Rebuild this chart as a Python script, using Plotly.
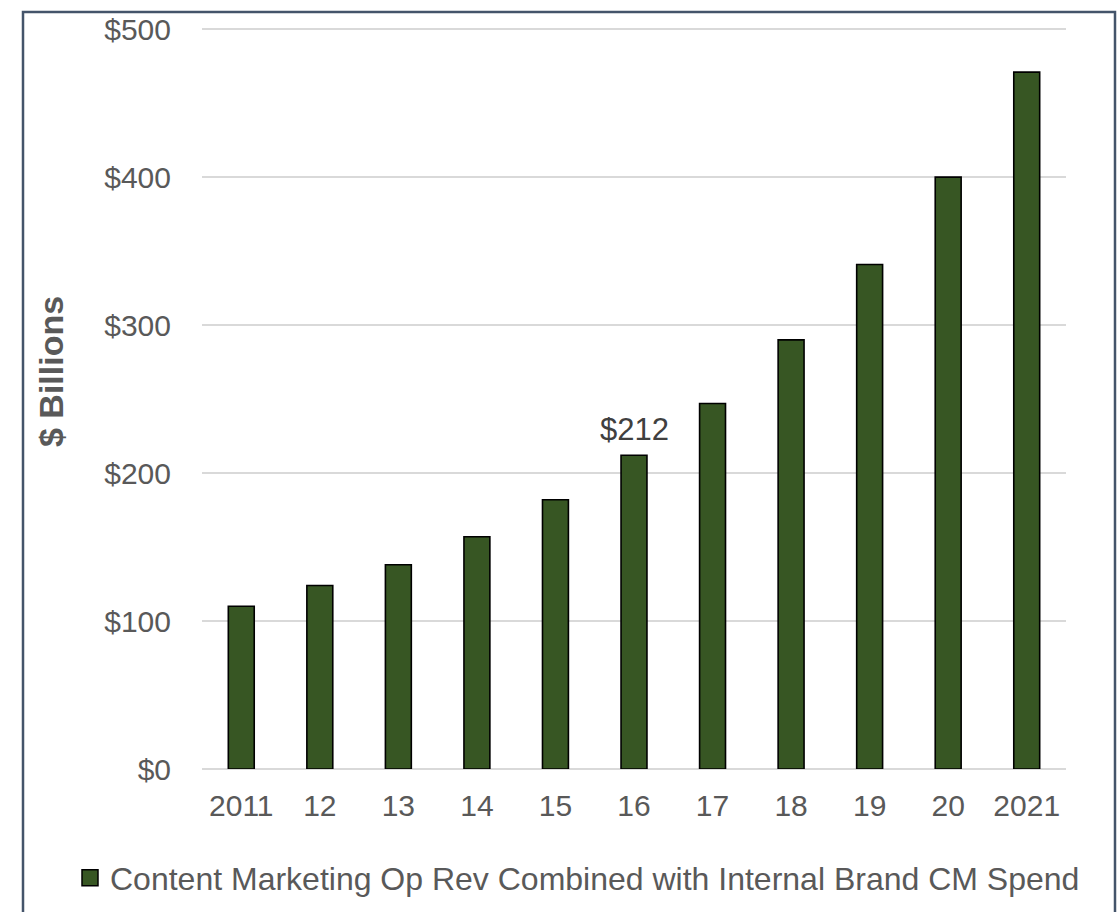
import plotly.graph_objects as go

# Annual spend, $ billions
years = ["2011", "12", "13", "14", "15", "16", "17", "18", "19", "20", "2021"]
spend = [110, 124, 138, 157, 182, 212, 247, 290, 341, 400, 471]
series_name = "Content Marketing Op Rev Combined with Internal Brand CM Spend"
y_ticks = [0, 100, 200, 300, 400, 500]
y_tick_labels = ["$0", "$100", "$200", "$300", "$400", "$500"]
labelled_year = "16"

FONT = "Liberation Sans, Arial, sans-serif"
GREY = "#595959"
BAR_FILL = "#375623"

W, H = 1117, 912
L, R, T, B = 202, 51, 28, 143
pw, ph = W - L - R, H - T - B
Y_MAX = 500.8


def px_x(x):
    return (x - L) / pw


def px_y(y):
    return (H - B - y) / ph


fig = go.Figure()
fig.add_trace(go.Bar(
    x=years, y=spend, name=series_name,
    marker=dict(color=BAR_FILL, line=dict(color="#000000", width=1.6)),
    showlegend=False,
))
# Legend entry with a larger square swatch
fig.add_trace(go.Scatter(
    x=[None], y=[None], mode="markers", name=series_name,
    marker=dict(symbol="square", size=16, color=BAR_FILL,
                line=dict(color="#000000", width=1.5)),
    showlegend=True, hoverinfo="skip",
))

idx = years.index(labelled_year)
fig.add_annotation(
    x=idx, y=spend[idx], xref="x", yref="y",
    text=f"${spend[idx]}", showarrow=False, yanchor="bottom", yshift=6,
    font=dict(family=FONT, size=31, color="#404040"),
)

# Y-axis title
fig.add_annotation(
    x=px_x(51), y=px_y(372), xref="paper", yref="paper",
    xanchor="center", yanchor="middle",
    text="<b>$ Billions</b>", textangle=-90, showarrow=False,
    font=dict(family=FONT, size=34, color=GREY),
)

# Outer frame
fig.add_shape(
    type="rect", xref="paper", yref="paper",
    x0=px_x(23), x1=px_x(1115), y0=px_y(930), y1=px_y(12),
    line=dict(color="#44546A", width=2.5), fillcolor="rgba(0,0,0,0)",
    layer="below",
)

fig.update_layout(
    width=W, height=H,
    margin=dict(l=L, r=R, t=T, b=B, pad=0, autoexpand=False),
    paper_bgcolor="white", plot_bgcolor="white",
    bargap=0.67,
    font=dict(family=FONT, size=30, color=GREY),
    showlegend=True,
    legend=dict(
        orientation="h", x=px_x(70), y=px_y(878), xanchor="left", yanchor="middle",
        font=dict(family=FONT, size=32, color=GREY),
        itemsizing="trace", itemwidth=30, bgcolor="rgba(0,0,0,0)",
    ),
    xaxis=dict(
        type="category", showgrid=False, showline=False, zeroline=False,
        ticks="", ticklabelstandoff=16, range=[-0.5, len(years) - 0.5],
        tickfont=dict(family=FONT, size=30, color=GREY),
        automargin=False,
    ),
    yaxis=dict(
        range=[0, Y_MAX], tickvals=y_ticks, ticktext=y_tick_labels,
        showgrid=True, gridcolor="#D9D9D9", gridwidth=1.5,
        zeroline=True, zerolinecolor="#D9D9D9", zerolinewidth=1.5,
        showline=False, ticks="", ticklabelstandoff=30,
        tickfont=dict(family=FONT, size=30, color=GREY),
        automargin=False,
    ),
)

fig.write_html("out.html")
